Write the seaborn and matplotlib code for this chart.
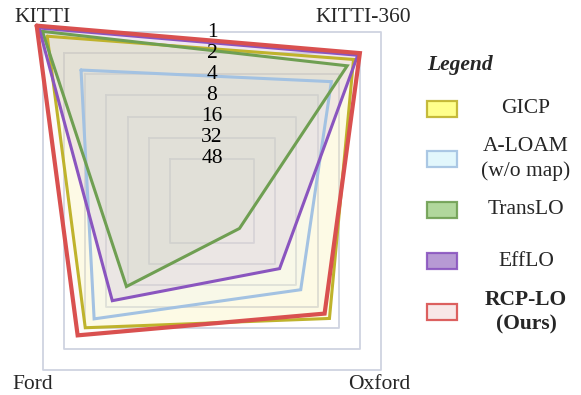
import numpy as np
import matplotlib
matplotlib.use("Agg")
import matplotlib.pyplot as plt
from matplotlib.patches import Rectangle
import seaborn as sns

# radar chart: grid level scores per dataset (outer = better)
datasets = ["KITTI", "KITTI-360", "Oxford", "Ford"]
dataset_angles_deg = [135, 45, -45, -135]
methods = ["GICP", "A-LOAM\n(w/o map)", "TransLO", "EffLO", "RCP-LO\n(Ours)"]
gicp = [7.8, 6.7, 5.56, 6.0]
aloam = [6.2, 5.65, 4.2, 5.58]
translo = [8.03, 6.4, 1.3, 4.05]
efflo = [8.19, 6.9, 3.2, 4.72]
rcplo = [8.3, 7.0, 5.33, 6.36]
scores = [gicp, aloam, translo, efflo, rcplo]
grid_levels = [8, 7, 6, 5, 4, 3, 2]
grid_labels = ["1", "2", "4", "8", "16", "32", "48"]

line_colors = ["#bfb32c", "#a3c2e2", "#6f9f52", "#8a55bf", "#d9504f"]
fill_colors = ["#ffff80", "#dff7fc", "#a9d391", "#b08fd0", "#f8e6e6"]
line_widths = [2.2, 2.2, 2.2, 2.2, 3.0]

sns.set_theme(style="white")
plt.rcParams["font.family"] = ["Liberation Serif", "DejaVu Serif"]
fs = 15.5

W, H = 581, 395
fig = plt.figure(figsize=(W / 100, H / 100), dpi=100)
cx, cy = 212, 201
rmax = 9
rpx = 239 / 8 * rmax
ax = fig.add_axes([(cx - rpx) / W, (H - cy - rpx) / H, 2 * rpx / W, 2 * rpx / H],
                  projection="polar")
ax.set_facecolor("none")
ax.set_ylim(0, rmax)
ax.grid(False)
ax.set_xticks([])
ax.set_yticks([])
ax.spines["polar"].set_visible(False)

theta = np.deg2rad(dataset_angles_deg + dataset_angles_deg[:1])

# square grid
for lev in grid_levels:
    ax.plot(theta, [lev] * len(theta), color="#cfd3e1", lw=1.3, zorder=1)
for lev, lab in zip(grid_levels, grid_labels):
    ax.text(np.pi / 2, lev / np.sqrt(2), lab, ha="center", va="center",
            fontsize=fs, color="black", zorder=6)

for vals, lc, fc, lw in zip(scores, line_colors, fill_colors, line_widths):
    r = vals + vals[:1]
    ax.fill(theta, r, color=fc, alpha=0.2, zorder=2, lw=0)
    ax.plot(theta, r, color=lc, lw=lw, zorder=3, solid_joinstyle="miter")

# dataset names at the corners
offsets = [(0, 15), (-18, 15), (-2, -15), (-10, -15)]
for name, ang, off in zip(datasets, dataset_angles_deg, offsets):
    ax.annotate(name, xy=(np.deg2rad(ang), 8), xytext=off, textcoords="offset pixels",
                ha="center", va="center", fontsize=fs)

# legend box on the right
fig.text(427 / W, 1 - 65 / H, "Legend", fontsize=fs, fontweight="bold",
         fontstyle="italic", ha="left", va="center")
centers = [108.5, 159, 210, 261, 312]
for m, lc, fc, yc in zip(methods, line_colors, fill_colors, centers):
    fig.add_artist(Rectangle((427 / W, 1 - (yc + 8) / H), 30 / W, 16 / H,
                             transform=fig.transFigure, facecolor=fc,
                             edgecolor=lc, lw=1.6, alpha=0.9))
    fig.text(526 / W, 1 - yc / H, m, fontsize=fs, ha="center", va="center",
             multialignment="center", linespacing=1.32,
             fontweight="bold" if "Ours" in m else "normal")

fig.savefig("out.png", dpi=100)
